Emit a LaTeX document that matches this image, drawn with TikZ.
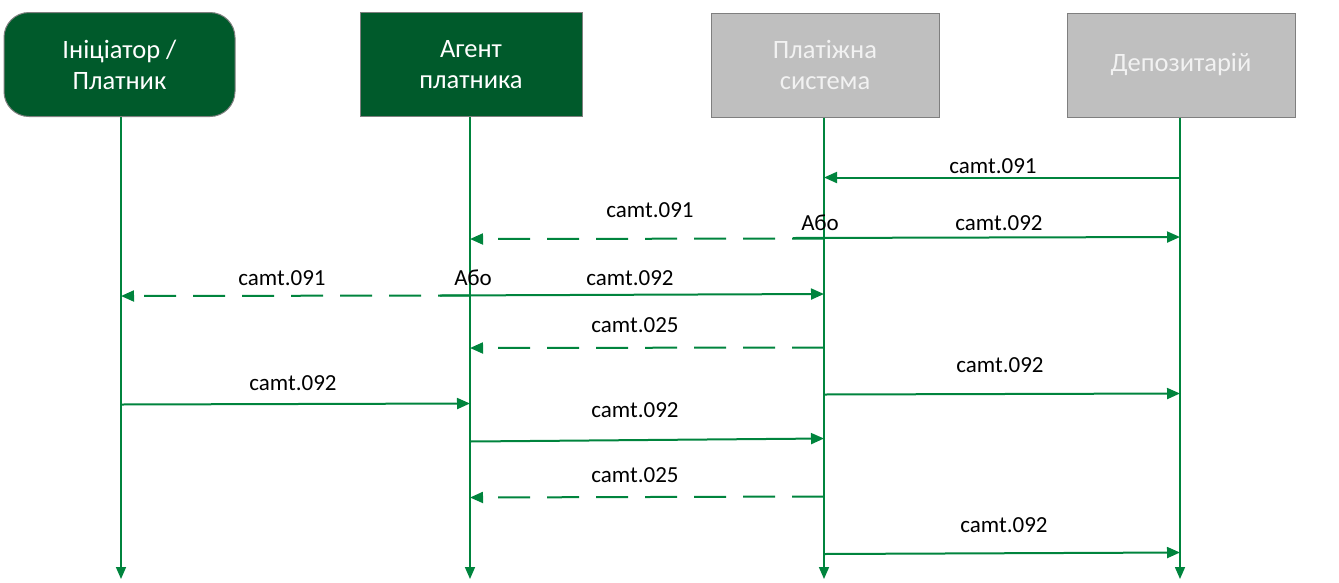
\documentclass[tikz,border=0pt]{standalone}
\usepackage{fontspec}
\setmainfont{Carlito}
\usetikzlibrary{arrows.meta,calc}
\definecolor{lgreen}{RGB}{0,132,61}
\definecolor{dgreen}{RGB}{0,90,43}
\definecolor{gbox}{RGB}{191,191,191}
\definecolor{gborder}{RGB}{127,127,127}
\definecolor{gtext}{RGB}{242,242,242}
\tikzset{
  actor/.style={draw=gborder,line width=1pt,minimum width=#1,minimum height=104pt,align=center,
     font=\fontsize{26.5}{31}\selectfont},
  greenbox/.style={fill=dgreen,text=white},
  greybox/.style={fill=gbox,text=gtext},
  lifeline/.style={draw=lgreen,line width=1.6pt,-{Triangle[length=12pt,width=10pt]}},
  msg/.style={draw=lgreen,line width=2pt,-{Triangle[length=13pt,width=11pt]}},
  dmsg/.style={msg,dash pattern=on 32pt off 17pt},
  lbl/.style={anchor=base,inner sep=0pt,font=\fontsize{23}{27}\selectfont,text=black}
}
\begin{document}
\begin{tikzpicture}[x=1pt,y=-1pt]
\useasboundingbox (0,0) rectangle (1339,582);
% actors
\node[actor=231pt,greenbox,rounded corners=25pt] (a1) at (119.5,64.5) {Ініціатор /\\Платник};
\node[actor=222pt,greenbox] (a2) at (471,64.5) {Агент\\платника};
\node[actor=228pt,greybox] (a3) at (825,65) {Платіжна\\система};
\node[actor=228pt,greybox] (a4) at (1181,65) {Депозитарій};
% lifeline ends
\coordinate (e1) at (121,579);
\coordinate (e2) at (470,579);
\coordinate (e3) at (824,579);
\coordinate (e4) at (1180,579);
\coordinate (L1) at (121,0);
\coordinate (L2) at (470,0);
\coordinate (L3) at (824,0);
\coordinate (L4) at (1180,0);
\draw[lifeline] (a1.south -| L1) -- (e1);
\draw[lifeline] (a2.south -| L2) -- (e2);
\draw[lifeline] (a3.south -| L3) -- (e3);
\draw[lifeline] (a4.south -| L4) -- (e4);
% row 1
\draw[msg] ($(L4)+(0,177.5)$) -- ($(L3)+(0,177.5)$);
\node[lbl] (t1) at (993,173) {camt.091};
% row 2
\coordinate (s2) at (793,238);
\draw[msg] (s2) -- ($(L4)+(0,237)$);
\draw[dmsg] ($(L3)+(0,238.5)$) -- ($(L2)+(0,239)$);
\node[lbl] (t2a) at (650,217) {camt.091};
\node[lbl] (t2b) at (999,230) {camt.092};
\node[lbl] (o2) at (820,230) {Або};
% row 3
\coordinate (s3) at (440,295.5);
\draw[msg] (s3) -- ($(L3)+(0,294)$);
\draw[dmsg] ($(L2)+(0,295.5)$) -- ($(L1)+(0,296)$);
\node[lbl] (t3a) at (282,285) {camt.091};
\node[lbl] (t3b) at (630,285) {camt.092};
\node[lbl] (o3) at (473,285) {Або};
% row 4
\draw[dmsg] ($(L3)+(0,347.5)$) -- ($(L2)+(0,348)$);
\node[lbl] (t4) at (635,332) {camt.025};
% row 5
\draw[msg] ($(L3)+(0,394.5)$) -- ($(L4)+(0,393.5)$);
\node[lbl] (t5) at (1000,372) {camt.092};
% row 6
\draw[msg] ($(L1)+(0,404.5)$) -- ($(L2)+(0,403.5)$);
\node[lbl] (t6) at (293,390) {camt.092};
% row 7
\draw[msg] ($(L2)+(0,441.5)$) -- ($(L3)+(0,438.5)$);
\node[lbl] (t7) at (635,417) {camt.092};
% row 8
\draw[dmsg] ($(L3)+(0,496.5)$) -- ($(L2)+(0,497.5)$);
\node[lbl] (t8) at (635,482) {camt.025};
% row 9
\draw[msg] ($(L3)+(0,554)$) -- ($(L4)+(0,552.5)$);
\node[lbl] (t9) at (1004,532) {camt.092};
\end{tikzpicture}
\end{document}
